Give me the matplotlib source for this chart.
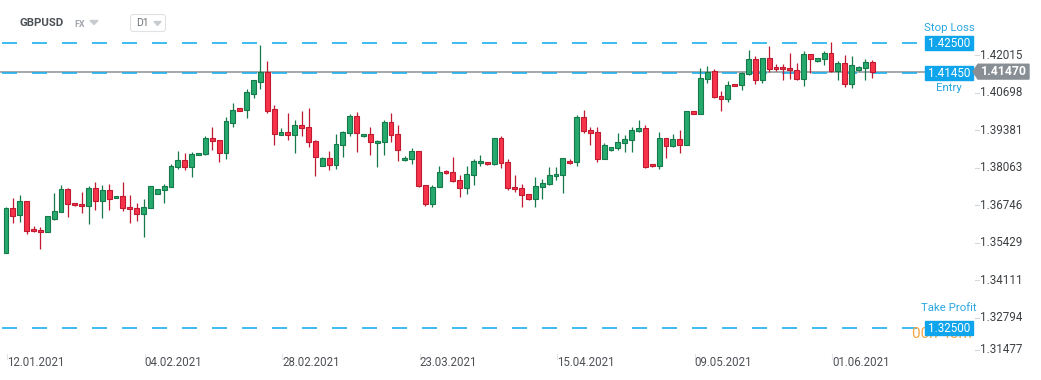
import matplotlib
matplotlib.use('Agg')
import matplotlib.pyplot as plt
from matplotlib.patches import Rectangle, Polygon, FancyBboxPatch
import numpy as np

plt.rcParams['font.family'] = ['Roboto', 'DejaVu Sans']
plt.rcParams['lines.scale_dashes'] = False

# GBPUSD daily candles (one value per bar)
opens = [1.3510, 1.3668, 1.3643, 1.3692, 1.3594, 1.3590, 1.3583, 1.3631, 1.3653, 1.3734,
         1.3685, 1.3683, 1.3675, 1.3738, 1.3692, 1.3731, 1.3703, 1.3710, 1.3671, 1.3668,
         1.3646, 1.3668, 1.3717, 1.3731, 1.3741, 1.3811, 1.3837, 1.3813, 1.3853, 1.3859,
         1.3913, 1.3907, 1.3863, 1.3968, 1.4018, 1.4013, 1.4070, 1.4112, 1.4146, 1.4015,
         1.3926, 1.3934, 1.3926, 1.3959, 1.3952, 1.3903, 1.3815, 1.3843, 1.3818, 1.3889,
         1.3931, 1.3991, 1.3920, 1.3927, 1.3896, 1.3899, 1.3969, 1.3927, 1.3836, 1.3839,
         1.3868, 1.3750, 1.3682, 1.3741, 1.3797, 1.3794, 1.3766, 1.3738, 1.3783, 1.3825,
         1.3829, 1.3822, 1.3913, 1.3829, 1.3741, 1.3738, 1.3717, 1.3699, 1.3741, 1.3752,
         1.3780, 1.3783, 1.3832, 1.3829, 1.3987, 1.3941, 1.3934, 1.3839, 1.3871, 1.3878,
         1.3896, 1.3906, 1.3938, 1.3948, 1.3822, 1.3815, 1.3913, 1.3885, 1.3910, 1.3889,
         1.4008, 1.3999, 1.4120, 1.4148, 1.4061, 1.4050, 1.4103, 1.4099, 1.4138, 1.4190,
         1.4117, 1.4194, 1.4162, 1.4162, 1.4159, 1.4152, 1.4120, 1.4208, 1.4183, 1.4190,
         1.4211, 1.4148, 1.4176, 1.4103, 1.4152, 1.4159, 1.4180]
highs = [1.3671, 1.3703, 1.3713, 1.3692, 1.3605, 1.3601, 1.3640, 1.3721, 1.3749, 1.3739,
         1.3686, 1.3725, 1.3746, 1.3760, 1.3749, 1.3753, 1.3711, 1.3760, 1.3714, 1.3686,
         1.3699, 1.3745, 1.3735, 1.3753, 1.3823, 1.3868, 1.3861, 1.3865, 1.3863, 1.3921,
         1.3952, 1.3907, 1.3987, 1.4037, 1.4019, 1.4085, 1.4117, 1.4241, 1.4184, 1.4029,
         1.3948, 1.4001, 1.3976, 1.4008, 1.4018, 1.3906, 1.3846, 1.3868, 1.3927, 1.3938,
         1.3997, 1.4004, 1.3928, 1.3953, 1.3907, 1.3976, 1.4002, 1.3960, 1.3851, 1.3879,
         1.3869, 1.3751, 1.3748, 1.3816, 1.3801, 1.3848, 1.3783, 1.3816, 1.3839, 1.3853,
         1.3831, 1.3914, 1.3921, 1.3839, 1.3783, 1.3752, 1.3718, 1.3776, 1.3769, 1.3811,
         1.3811, 1.3844, 1.3839, 1.3994, 1.4011, 1.3952, 1.3952, 1.3896, 1.3883, 1.3931,
         1.3924, 1.3952, 1.3976, 1.3959, 1.3823, 1.3934, 1.3914, 1.3927, 1.3941, 1.4009,
         1.4009, 1.4159, 1.4166, 1.4155, 1.4078, 1.4113, 1.4104, 1.4145, 1.4222, 1.4201,
         1.4195, 1.4236, 1.4173, 1.4173, 1.4211, 1.4176, 1.4218, 1.4209, 1.4195, 1.4218,
         1.4250, 1.4183, 1.4204, 1.4201, 1.4166, 1.4190, 1.4187]
lows = [1.3510, 1.3617, 1.3621, 1.3576, 1.3584, 1.3526, 1.3583, 1.3628, 1.3653, 1.3638,
        1.3677, 1.3652, 1.3613, 1.3663, 1.3635, 1.3663, 1.3702, 1.3659, 1.3617, 1.3624,
        1.3568, 1.3668, 1.3716, 1.3685, 1.3741, 1.3807, 1.3803, 1.3778, 1.3853, 1.3856,
        1.3873, 1.3831, 1.3842, 1.3954, 1.4009, 1.3985, 1.4056, 1.4085, 1.4003, 1.3891,
        1.3925, 1.3908, 1.3863, 1.3922, 1.3884, 1.3782, 1.3815, 1.3803, 1.3806, 1.3849,
        1.3922, 1.3866, 1.3919, 1.3856, 1.3813, 1.3856, 1.3901, 1.3835, 1.3835, 1.3822,
        1.3743, 1.3677, 1.3673, 1.3741, 1.3787, 1.3759, 1.3708, 1.3719, 1.3750, 1.3815,
        1.3820, 1.3818, 1.3808, 1.3731, 1.3723, 1.3673, 1.3698, 1.3673, 1.3699, 1.3751,
        1.3766, 1.3720, 1.3822, 1.3815, 1.3931, 1.3889, 1.3829, 1.3839, 1.3870, 1.3871,
        1.3864, 1.3864, 1.3937, 1.3808, 1.3814, 1.3804, 1.3843, 1.3882, 1.3861, 1.3888,
        1.3997, 1.3999, 1.4108, 1.4053, 1.4010, 1.4039, 1.4095, 1.4082, 1.4137, 1.4103,
        1.4106, 1.4145, 1.4151, 1.4117, 1.4120, 1.4117, 1.4096, 1.4141, 1.4182, 1.4169,
        1.4147, 1.4117, 1.4092, 1.4089, 1.4151, 1.4117, 1.4124]
closes = [1.3668, 1.3639, 1.3692, 1.3587, 1.3587, 1.3583, 1.3640, 1.3657, 1.3734, 1.3682,
          1.3678, 1.3675, 1.3738, 1.3692, 1.3731, 1.3699, 1.3710, 1.3668, 1.3664, 1.3646,
          1.3671, 1.3745, 1.3734, 1.3745, 1.3815, 1.3836, 1.3813, 1.3858, 1.3862, 1.3913,
          1.3903, 1.3863, 1.3973, 1.4011, 1.4010, 1.4075, 1.4117, 1.4146, 1.4010, 1.3929,
          1.3934, 1.3926, 1.3959, 1.3948, 1.3899, 1.3846, 1.3843, 1.3818, 1.3892, 1.3934,
          1.3990, 1.3931, 1.3927, 1.3899, 1.3903, 1.3969, 1.3924, 1.3871, 1.3843, 1.3868,
          1.3747, 1.3682, 1.3743, 1.3794, 1.3790, 1.3762, 1.3738, 1.3787, 1.3832, 1.3832,
          1.3822, 1.3913, 1.3825, 1.3738, 1.3734, 1.3713, 1.3699, 1.3745, 1.3755, 1.3783,
          1.3787, 1.3843, 1.3825, 1.3987, 1.3938, 1.3931, 1.3839, 1.3889, 1.3882, 1.3899,
          1.3910, 1.3941, 1.3948, 1.3811, 1.3815, 1.3913, 1.3885, 1.3910, 1.3889, 1.4008,
          1.4000, 1.4124, 1.4145, 1.4057, 1.4050, 1.4099, 1.4096, 1.4141, 1.4190, 1.4117,
          1.4194, 1.4155, 1.4155, 1.4155, 1.4152, 1.4120, 1.4208, 1.4190, 1.4194, 1.4211,
          1.4148, 1.4176, 1.4103, 1.4169, 1.4162, 1.4180, 1.4147]

date_labels = ['12.01.2021', '04.02.2021', '28.02.2021', '23.03.2021',
               '15.04.2021', '09.05.2021', '01.06.2021']
price_ticks = [1.42015, 1.40698, 1.39381, 1.38063, 1.36746, 1.35429, 1.34111, 1.32794, 1.31477]

stop_loss = 1.42500
entry = 1.41450
take_profit = 1.32500
last_price = 1.41470

GREEN, GREEN_EDGE = '#26a96c', '#15794a'
RED, RED_EDGE = '#f7334a', '#bf1a30'
BLUE = '#0ea5ec'
BLUE_TXT = '#2aa7df'

fig = plt.figure(figsize=(10.41, 3.8), dpi=100)
# overlay in pixel coordinates for the UI parts
ov = fig.add_axes([0, 0, 1, 1])
ov.set_xlim(0, 1041)
ov.set_ylim(380, 0)
ov.axis('off')
ov.set_zorder(1)

ax = fig.add_axes([0, 0, 1, 1])
ax.set_zorder(2)
ax.patch.set_visible(False)
ax.axis('off')
ax.set_xlim(-6 / 6.875, 1035 / 6.875)
ax.set_ylim(1.30651, 1.43984)


def py(p):
    return 380 - ax.transData.transform((0, p))[1]


def px(i):
    return ax.transData.transform((i, 0))[0]


# candles
o = np.array(opens)
c = np.array(closes)
x = np.arange(len(o))
up = c >= o
fill = np.where(up, GREEN, RED)
edge = np.where(up, GREEN_EDGE, RED_EDGE)
ax.vlines(x, lows, highs, colors=edge, lw=0.9, zorder=2)
ax.bar(x, np.maximum(np.abs(c - o), 0.0004), bottom=np.minimum(o, c), width=0.72,
       color=fill, edgecolor=edge, linewidth=0.8, zorder=3)

# price level lines
ov.plot([0, 975], [py(last_price)] * 2, color='#8c9298', lw=1.1)
for lvl in [stop_loss, entry, take_profit]:
    ov.plot([2, 917], [py(lvl) + 0.6] * 2, color='#1db0ee', lw=1.2, dashes=(10.8, 10.8))

# header
ov.text(20, 23.5, 'GBPUSD', fontsize=8.2, fontweight='bold', color='#4b5157', va='center')
ov.text(74, 24.5, 'FX', fontsize=6.5, fontweight='bold', color='#a0a6ac', va='center')
ov.add_patch(Polygon([(90, 20.5), (98, 20.5), (94, 24.5)], closed=True, color='#c8ccd0'))
ov.add_patch(FancyBboxPatch((130.5, 14.5), 35, 17, boxstyle='round,pad=0,rounding_size=3',
                            fc='white', ec='#e0e3e6', lw=0.8))
ov.text(136, 23.5, 'D1', fontsize=7.5, color='#6b7176', va='center')
ov.add_patch(Polygon([(154, 21.5), (161, 21.5), (157.5, 25.5)], closed=True, color='#c8ccd0'))

# right price scale
for v in price_ticks:
    y = min(py(v) - 1, 349.5)
    ov.plot([975, 979], [y, y], color='#d5d8db', lw=0.8)
    ov.text(980, y, '%.5f' % v, fontsize=8.4, color='#3c4043', va='center', ha='left')

# date axis
for k, lab in enumerate(date_labels):
    xp = px(k * 20) + 1
    ov.plot([xp, xp], [354, 359], color='#e3e5e8', lw=0.8)
    ov.text(xp, 363, lab, fontsize=8.3, color='#4d5156', va='center', ha='left')

# countdown text partly hidden by the take profit box
ov.text(972, 338.5, '00h 43m', fontsize=11, color='#f7a443', ha='right', va='baseline')

# order level boxes
for lvl, name, dy in [(stop_loss, 'Stop Loss', -14.5), (entry, 'Entry', 16),
                      (take_profit, 'Take Profit', -19)]:
    yc = py(lvl) + 1
    ov.add_patch(Rectangle((925, yc - 7), 47.7, 14, color=BLUE, zorder=5))
    ov.text(949, yc, '%.5f' % lvl, fontsize=8.4, color='white', ha='center', va='center', zorder=6)
    ov.text(949, py(lvl) + dy, name, fontsize=8.2, color=BLUE_TXT, ha='center', va='center')

# current price tag
yc = py(last_price)
ov.add_patch(Polygon([(973, yc), (978, yc - 7.4), (1029, yc - 7.4), (1029, yc + 7.4), (978, yc + 7.4)],
                     closed=True, color='#878e94', zorder=5))
ov.text(1004, yc, '%.5f' % last_price, fontsize=8.8, fontweight='bold', color='white',
        ha='center', va='center', zorder=6)

fig.savefig('out.png', dpi=100, facecolor='white')
